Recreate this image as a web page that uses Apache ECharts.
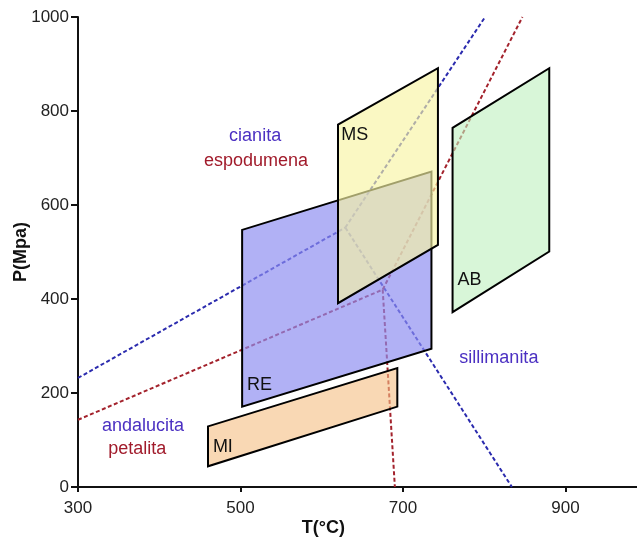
<!DOCTYPE html>
<html>
<head>
<meta charset="utf-8">
<script src="https://cdn.jsdelivr.net/npm/echarts@6/dist/echarts.min.js"></script>
<style>
html,body{margin:0;padding:0;background:#fff;}
#c{width:637px;height:541px;}
</style>
</head>
<body>
<div id="c"></div>
<script>
// ---- data ----
var xTicks = [300, 500, 700, 900];
var yTicks = [0, 200, 400, 600, 800, 1000];

// field polygons (T °C, P MPa)
var polyRE = [[502,171],[502,547],[735,671],[735,294]];
var polyMS = [[620,391],[620,771],[743,891],[743,515]];
var polyAB = [[761,372],[761,764],[880,891],[880,501]];
var polyMI = [[460,44],[460,129],[693,253],[693,171]];
var polyNames = ['RE','MS','AB','MI'];

// Al2SiO5 boundaries (blue)
var andKy  = [[300,232],[629,552]];
var kySil  = [[629,552],[801,1000]];
var andSil = [[629,552],[834,0]];
// Li-aluminosilicate boundaries (red)
var petSpd = [[300,143],[675,420]];
var spdHi  = [[675,420],[847,1000]];
var petHi  = [[675,420],[690,0]];

// annotation texts (T, P)
var blueTexts = [['cianita',518,746],['andalucita',380,130],['sillimanita',818,274]];
var redTexts  = [['espodumena',519,694],['petalita',373,81]];
var fieldLabels = [['MS',624,748],['AB',767,440],['RE',508,218],['MI',466,86]];

// ---- chart ----
var FONT = 'Liberation Sans, Arial, sans-serif';
var BLUE = '#2b2bae', RED = '#a3222c';
var BLUE_T = '#4b30c2', RED_T = '#a11b2b';
var fills = {RE:'rgba(140,140,240,0.68)', MS:'rgba(247,244,163,0.65)', AB:'rgba(190,240,190,0.6)', MI:'rgba(245,190,130,0.6)'};
var polys = {RE:polyRE, MS:polyMS, AB:polyAB, MI:polyMI};

function lineSeries(d, color){
  return {type:'line', data:d, symbol:'none', silent:true, z:1, animation:false,
    lineStyle:{color:color, width:2, type:[4,2.5]}};
}
function polySeries(name){
  var pts = polys[name];
  return {type:'custom', z:2, silent:true, animation:false, data:pts,
    renderItem:function(params, api){
      if (params.dataIndex !== 0) return null;
      var p = pts.map(function(v){ return api.coord(v); });
      return {type:'polygon', shape:{points:p},
        style:{fill:fills[name], stroke:'#000', lineWidth:2, lineJoin:'miter'}};
    }};
}
function textSeries(list, color, align){
  return {type:'custom', z:5, silent:true, animation:false,
    data:list.map(function(t){ return [t[1], t[2], t[0]]; }),
    renderItem:function(params, api){
      var c = api.coord([api.value(0), api.value(1)]);
      var item = list[params.dataIndex];
      return {type:'text', x:c[0], y:c[1],
        style:{text:item[0], fill:color, font:'18px ' + FONT, align:align, verticalAlign:'middle'}};
    }};
}

var series = [
  lineSeries(andKy, BLUE), lineSeries(kySil, BLUE), lineSeries(andSil, BLUE),
  lineSeries(petSpd, RED), lineSeries(spdHi, RED), lineSeries(petHi, RED)
];
polyNames.forEach(function(n){ series.push(polySeries(n)); });
series.push(textSeries(blueTexts, BLUE_T, 'center'));
series.push(textSeries(redTexts, RED_T, 'center'));
series.push(textSeries(fieldLabels, '#111', 'left'));

var chart = echarts.init(document.getElementById('c'), null, {renderer:'canvas'});
chart.setOption({
  backgroundColor:'#fff',
  animation:false,
  grid:{left:78, top:17, width:568.75, height:470, containLabel:false, outerBoundsMode:'none'},
  xAxis:[{
    type:'value', min:300, max:1000, interval:200,
    name:'T(°C)', nameLocation:'middle', nameGap:32, nameMoveOverlap:false,
    nameTextStyle:{fontFamily:FONT, fontSize:18, fontWeight:'bold', color:'#111', padding:[0,78,0,0]},
    axisLine:{show:true, onZero:false, lineStyle:{color:'#111', width:2}},
    axisTick:{show:true, inside:false, length:5, lineStyle:{color:'#111', width:2}},
    axisLabel:{show:true, margin:13, fontFamily:FONT, fontSize:17, color:'#222', showMaxLabel:false,
      formatter:function(v){ return xTicks.indexOf(v) >= 0 ? String(v) : ''; }},
    splitLine:{show:false}
  },{
    type:'value', position:'top', min:300, max:1000,
    axisLine:{show:true, lineStyle:{color:'#111', width:2}},
    axisTick:{show:false}, axisLabel:{show:false}, splitLine:{show:false}
  }],
  yAxis:{
    type:'value', min:0, max:1000, interval:200,
    name:'P(Mpa)', nameLocation:'middle', nameGap:48, nameRotate:90, nameMoveOverlap:false,
    nameTextStyle:{fontFamily:FONT, fontSize:18, fontWeight:'bold', color:'#111'},
    axisLine:{show:true, onZero:false, lineStyle:{color:'#111', width:2}},
    axisTick:{show:true, inside:false, length:7, lineStyle:{color:'#111', width:2}},
    axisLabel:{show:true, margin:9, fontFamily:FONT, fontSize:17, color:'#222',
      formatter:function(v){ return yTicks.indexOf(v) >= 0 ? String(v) : ''; }},
    splitLine:{show:false}
  },
  series:series
});
</script>
</body>
</html>
